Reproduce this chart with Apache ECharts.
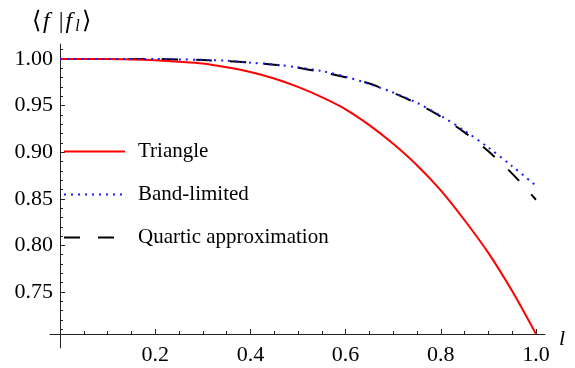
<!DOCTYPE html>
<html>
<head>
<meta charset="utf-8">
<script src="https://cdn.jsdelivr.net/npm/echarts@6/dist/echarts.min.js"></script>
<style>
	html, body { margin: 0; padding: 0; background: #fff; }
	#chart { width: 575px; height: 368px; }
</style>
</head>
<body>
<div id="chart"></div>
<script>
var lValues = [0, 0.05, 0.1, 0.15, 0.2, 0.25, 0.3, 0.35, 0.4, 0.45, 0.5, 0.55, 0.6, 0.65, 0.7, 0.75, 0.8, 0.85, 0.9, 0.95, 1.0];
var triangle = [1.000, 1.000, 1.000, 0.9995, 0.9985, 0.997, 0.995, 0.991, 0.986, 0.979, 0.970, 0.959, 0.946, 0.929, 0.909, 0.886, 0.859, 0.827, 0.792, 0.751, 0.705];
var bandLimited = [1.000, 1.000, 1.000, 1.000, 1.000, 0.9995, 0.999, 0.998, 0.996, 0.994, 0.991, 0.987, 0.981, 0.973, 0.964, 0.953, 0.939, 0.923, 0.905, 0.885, 0.864];
var quartic = [1.000, 1.000, 1.000, 1.000, 1.000, 0.9994, 0.9988, 0.9977, 0.9961, 0.9938, 0.9906, 0.9859, 0.9804, 0.9736, 0.9637, 0.9522, 0.9382, 0.9212, 0.9009, 0.877, 0.849];

var xMajor = [0.2, 0.4, 0.6, 0.8, 1.0];
var xMinor = [0.05, 0.1, 0.15, 0.25, 0.3, 0.35, 0.45, 0.5, 0.55, 0.65, 0.7, 0.75, 0.85, 0.9, 0.95];
var yMajor = [0.75, 0.80, 0.85, 0.90, 0.95, 1.00];
var yMinor = [0.71, 0.72, 0.73, 0.74, 0.76, 0.77, 0.78, 0.79, 0.81, 0.82, 0.83, 0.84,
	0.86, 0.87, 0.88, 0.89, 0.91, 0.92, 0.93, 0.94, 0.96, 0.97, 0.98, 0.99, 1.01];

function pairs(ys) {
	return lValues.map(function (x, i) { return [x, ys[i]]; });
}

var serif = 'Liberation Serif';
var axisColor = '#222';
var noFill = 'rgba(0,0,0,0)';

var chart = echarts.init(document.getElementById('chart'));

var option = {
	animation: false,
	backgroundColor: '#fff',
	title: {
		left: 27,
		top: 4,
		text: '{b|⟨}{f|f}{n||}{g|f}{s|l}{e|⟩}',
		textStyle: {
			fontWeight: 'normal',
			rich: {
				b: { fontFamily: serif, fontSize: 24, fontWeight: 'normal', color: '#000', padding: [0, 2, 0, 0] },
				f: { fontFamily: serif, fontSize: 24, fontStyle: 'italic', fontWeight: 'normal', color: '#000', padding: [0, 9, 0, 0] },
				n: { fontFamily: serif, fontSize: 24, fontWeight: 'normal', color: '#000', padding: [0, 2, 0, 0] },
				g: { fontFamily: serif, fontSize: 24, fontStyle: 'italic', fontWeight: 'normal', color: '#000', padding: [0, 3, 0, 0] },
				s: { fontFamily: serif, fontSize: 16, fontStyle: 'italic', fontWeight: 'normal', color: '#000', padding: [10, 2, 0, 0] },
				e: { fontFamily: serif, fontSize: 24, fontWeight: 'normal', color: '#000' }
			}
		}
	},
	grid: {
		left: 50,
		right: 30,
		top: 44,
		bottom: 20
	},
	legend: {
		orient: 'vertical',
		left: 63,
		top: 141,
		padding: 0,
		itemWidth: 61,
		itemHeight: 14,
		itemGap: 22,
		data: ['Triangle', 'Band-limited', 'Quartic approximation'],
		itemStyle: { opacity: 0 },
		textStyle: {
			fontFamily: serif,
			fontSize: 21,
			lineHeight: 21,
			color: '#000',
			padding: [0, 0, 0, 8]
		}
	},
	xAxis: [{
		type: 'value',
		min: -0.021,
		max: 1.019,
		offset: -14,
		name: 'l',
		nameGap: 14,
		nameTextStyle: {
			fontFamily: serif,
			fontSize: 22,
			fontStyle: 'italic',
			color: '#000',
			verticalAlign: 'top',
			lineHeight: 10
		},
		axisLine: { lineStyle: { color: axisColor, width: 1 } },
		axisTick: { inside: true, length: 5, customValues: xMajor, lineStyle: { color: axisColor } },
		axisLabel: {
			customValues: xMajor,
			margin: 10,
			fontFamily: serif,
			fontSize: 22,
			color: '#000',
			formatter: function (v) { return v.toFixed(1); }
		},
		splitLine: { show: false }
	}, {
		type: 'value',
		min: -0.021,
		max: 1.019,
		offset: -14,
		position: 'bottom',
		axisLine: { show: false },
		axisTick: { inside: true, length: 3, customValues: xMinor, lineStyle: { color: axisColor } },
		axisLabel: { show: false },
		splitLine: { show: false }
	}],
	yAxis: [{
		type: 'value',
		min: 0.69,
		max: 1.016,
		position: 'left',
		axisLine: { show: true, onZero: true, lineStyle: { color: axisColor, width: 1 } },
		axisTick: { show: true, inside: true, length: 5, customValues: yMajor, lineStyle: { color: axisColor } },
		axisLabel: {
			customValues: yMajor,
			margin: -3,
			fontFamily: serif,
			fontSize: 22,
			color: '#000',
			formatter: function (v) { return v.toFixed(2); }
		},
		splitLine: { show: false }
	}, {
		type: 'value',
		min: 0.69,
		max: 1.016,
		position: 'left',
		axisLine: { show: false, onZero: true },
		axisTick: { show: true, inside: true, length: 3, customValues: yMinor, lineStyle: { color: axisColor } },
		axisLabel: { show: false },
		splitLine: { show: false }
	}],
	series: [{
		name: 'Triangle',
		type: 'line',
		symbol: 'none',
		smooth: 0.3,
		data: pairs(triangle),
		lineStyle: { color: '#ff0000', width: 2 },
		itemStyle: { color: noFill },
		z: 3
	}, {
		name: 'Quartic approximation',
		type: 'line',
		symbol: 'none',
		smooth: 0.3,
		data: pairs(quartic),
		lineStyle: { color: '#000', width: 2, type: [16, 18] },
		itemStyle: { color: noFill },
		z: 2
	}, {
		name: 'Band-limited',
		type: 'line',
		symbol: 'none',
		smooth: 0.3,
		data: pairs(bandLimited),
		lineStyle: { color: '#1a1aff', width: 2, type: [2, 5] },
		itemStyle: { color: noFill },
		z: 4
	}]
};

chart.setOption(option);
</script>
</body>
</html>
